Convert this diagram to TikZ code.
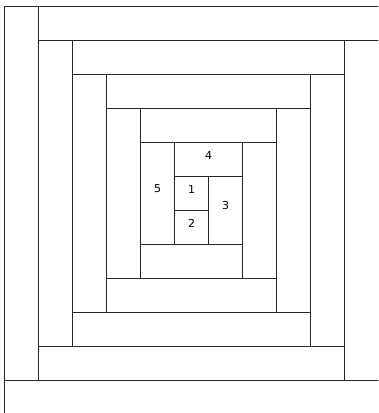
\documentclass[tikz,border=0pt]{standalone}
\usepackage{fontspec}
\setmainfont{DejaVu Sans}
\usetikzlibrary{fit}
\tikzset{
  logbox/.style={draw=black!85, line width=0.9pt, rectangle, inner sep=0pt, font=\fontsize{11}{13}\selectfont}
}
\begin{document}
\begin{tikzpicture}[x=34pt,y=-34pt]
\fill[white] (-0.1324,-0.1765) rectangle (10.985,11.97);
\useasboundingbox (-0.1324,-0.1765) rectangle (10.985,11.97);
\clip (-0.1324,-0.1765) rectangle (10.985,11.97);
\foreach \n/\a/\b/\c/\d/\t in {
  1/5/5/6/6/1, 2/5/6/6/7/2, 3/6/5/7/7/3, 4/5/4/7/5/4, 5/4/4/5/7/5,
  6/4/7/7/8/{}, 7/7/4/8/8/{}, 8/4/3/8/4/{}, 9/3/3/4/8/{},
  10/3/8/8/9/{}, 11/8/3/9/9/{}, 12/3/2/9/3/{}, 13/2/2/3/9/{},
  14/2/9/9/10/{}, 15/9/2/10/10/{}, 16/2/1/10/2/{}, 17/1/1/2/10/{},
  18/1/10/10/11/{}, 19/10/1/11.5/11/{}, 20/1/0/11.5/1/{}, 21/0/0/1/11/{},
  22/0/11/11.5/12.5/{}}
{
  \node[logbox, fit={(\a,\b) (\c,\d)}] (log\n) {\t};
}
\end{tikzpicture}
\end{document}
